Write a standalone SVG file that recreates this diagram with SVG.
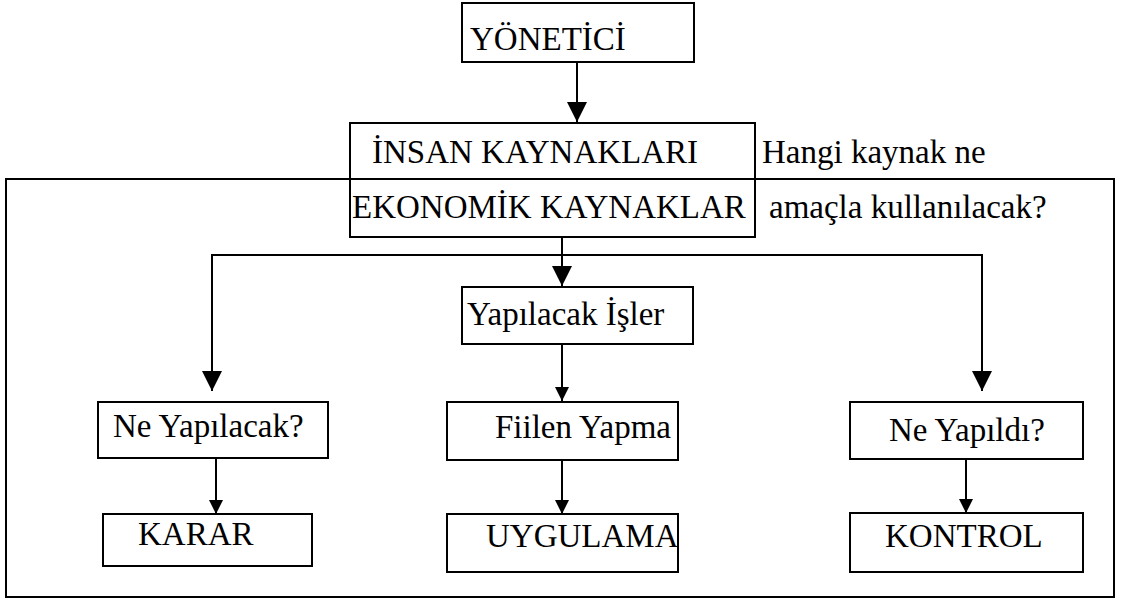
<svg xmlns="http://www.w3.org/2000/svg" width="1122" height="602" viewBox="0 0 1122 602">
  <style>
    .box { fill: none; stroke: #000; stroke-width: 2; }
    .frame { fill: none; stroke: #000; stroke-width: 2; }
    .lbl { font-family: 'Liberation Serif', 'DejaVu Serif', serif; font-size: 33px; fill: #000; }
    .wire { fill: none; stroke: #000; stroke-width: 2; }
    .big { marker-end: url(#headBig); }
    .small { marker-end: url(#headSmall); }
  </style>
  <defs>
    <marker id="headBig" markerUnits="userSpaceOnUse" markerWidth="20" markerHeight="20" refX="20" refY="10" orient="auto" viewBox="0 0 20 20">
      <path d="M0,0 L20,10 L0,20 Z" fill="#000"/>
    </marker>
    <marker id="headSmall" markerUnits="userSpaceOnUse" markerWidth="14" markerHeight="14" refX="14" refY="7" orient="auto" viewBox="0 0 14 14">
      <path d="M0,0 L14,7 L0,14 Z" fill="#000"/>
    </marker>
  </defs>
  <rect width="1122" height="602" fill="#fff"/>

  <!-- outer frame -->
  <rect class="frame" x="6" y="179" width="1108" height="418"/>

  <g id="yonetici">
    <rect class="box" x="462" y="3" width="232" height="59"/>
    <text class="lbl" x="470" y="50">YÖNETİCİ</text>
  </g>

  <g id="kaynaklar">
    <rect class="box" x="350" y="123" width="405" height="114"/>
    <line class="box" x1="350" y1="179" x2="755" y2="179"/>
    <text class="lbl" x="372" y="163">İNSAN KAYNAKLARI</text>
    <text class="lbl" x="352" y="218">EKONOMİK KAYNAKLAR</text>
  </g>

  <g id="soru">
    <text class="lbl" x="762" y="163">Hangi kaynak ne</text>
    <text class="lbl" x="769" y="218">amaçla kullanılacak?</text>
  </g>

  <g id="yapilacak-isler">
    <rect class="box" x="462" y="287" width="231" height="57"/>
    <text class="lbl" x="467" y="325">Yapılacak İşler</text>
  </g>

  <g id="ne-yapilacak">
    <rect class="box" x="98" y="402" width="230" height="56"/>
    <text class="lbl" x="113" y="437">Ne Yapılacak?</text>
  </g>

  <g id="fiilen-yapma">
    <rect class="box" x="447" y="402" width="231" height="58"/>
    <text class="lbl" x="495" y="438">Fiilen Yapma</text>
  </g>

  <g id="ne-yapildi">
    <rect class="box" x="850" y="402" width="233" height="57"/>
    <text class="lbl" x="889" y="441">Ne Yapıldı?</text>
  </g>

  <g id="karar">
    <rect class="box" x="103" y="514" width="209" height="52"/>
    <text class="lbl" x="138" y="545">KARAR</text>
  </g>

  <g id="uygulama">
    <rect class="box" x="447" y="514" width="231" height="58"/>
    <text class="lbl" x="486" y="547">UYGULAMA</text>
  </g>

  <g id="kontrol">
    <rect class="box" x="850" y="513" width="233" height="59"/>
    <text class="lbl" x="885" y="547">KONTROL</text>
  </g>

  <g id="connectors">
    <line class="wire big" x1="577" y1="62" x2="577" y2="122"/>
    <line class="wire big" x1="562" y1="237" x2="562" y2="286"/>
    <polyline class="wire big" points="212,255 212,391"/>
    <polyline class="wire big" points="982,255 982,391"/>
    <line class="wire" x1="211" y1="255" x2="983" y2="255"/>
    <line class="wire small" x1="562" y1="344" x2="562" y2="401"/>
    <line class="wire small" x1="216" y1="458" x2="216" y2="514"/>
    <line class="wire small" x1="562" y1="460" x2="562" y2="514"/>
    <line class="wire small" x1="966" y1="459" x2="966" y2="513"/>
  </g>
</svg>
